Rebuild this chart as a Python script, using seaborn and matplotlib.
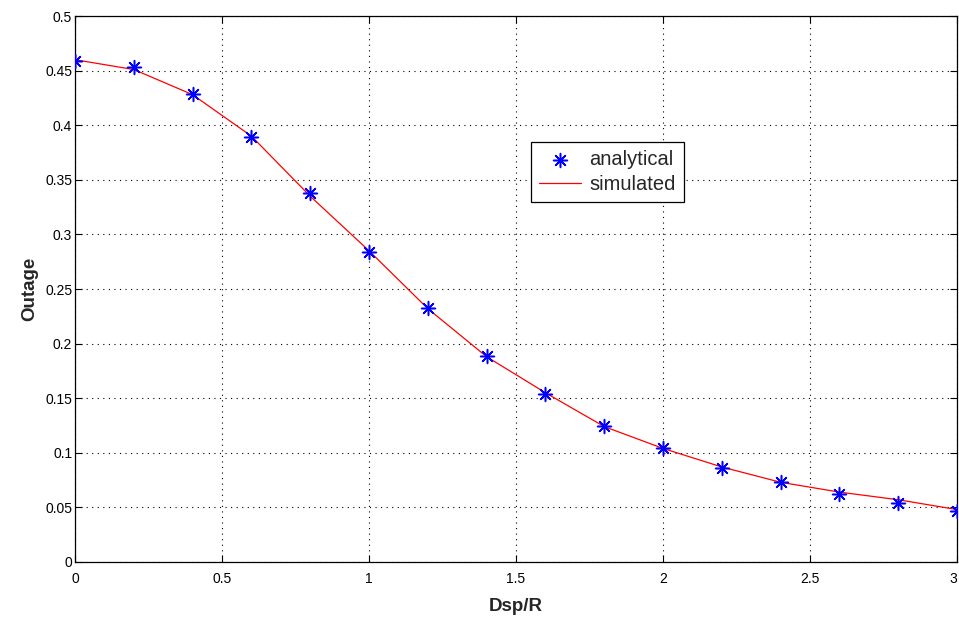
import matplotlib
matplotlib.use("Agg")
import matplotlib.pyplot as plt
import seaborn as sns
import pandas as pd

x_vals = [0, 0.2, 0.4, 0.6, 0.8, 1.0, 1.2, 1.4, 1.6, 1.8, 2.0, 2.2, 2.4, 2.6, 2.8, 3.0]
analytical = [0.459, 0.453, 0.429, 0.389, 0.338, 0.284, 0.233, 0.189, 0.154, 0.125,
              0.104, 0.086, 0.073, 0.062, 0.054, 0.047]
simulated = [0.460, 0.451, 0.428, 0.390, 0.335, 0.285, 0.232, 0.188, 0.155, 0.124,
             0.104, 0.087, 0.073, 0.064, 0.057, 0.048]
x_ticks = [0, 0.5, 1, 1.5, 2, 2.5, 3]
x_tick_labels = ["0", "0.5", "1", "1.5", "2", "2.5", "3"]
y_ticks = [0, 0.05, 0.1, 0.15, 0.2, 0.25, 0.3, 0.35, 0.4, 0.45, 0.5]
y_tick_labels = ["0", "0.05", "0.1", "0.15", "0.2", "0.25", "0.3", "0.35", "0.4", "0.45", "0.5"]

df = pd.DataFrame({"x": x_vals, "analytical": analytical, "simulated": simulated})

sns.set_style("white")
plt.rcParams["font.family"] = ["Liberation Sans", "DejaVu Sans"]

fig = plt.figure(figsize=(9.59, 6.19), dpi=100)
ax = fig.add_axes([0.0782, 0.0921, 0.9198, 0.882])

sns.scatterplot(data=df, x="x", y="analytical", ax=ax, marker=(8, 2, 0), s=100,
                color="#0000ff", linewidth=1.1, label="analytical", zorder=3)
sns.lineplot(data=df, x="x", y="simulated", ax=ax, color="#ff0000", linewidth=0.9,
             label="simulated", zorder=2)

ax.set_xlim(0, 3)
ax.set_ylim(0, 0.5)
ax.set_xticks(x_ticks)
ax.set_xticklabels(x_tick_labels)
ax.set_yticks(y_ticks)
ax.set_yticklabels(y_tick_labels)
ax.grid(True, linestyle=(0, (1, 4)), color="black", linewidth=0.8)
ax.tick_params(direction="in", length=5, width=0.8, labelsize=10, top=True, right=True,
               bottom=True, left=True, colors="black")
ax.tick_params(axis="x", pad=7)
ax.tick_params(axis="y", pad=2)
xlabels = ax.get_xticklabels()
xlabels[-1].set_horizontalalignment("right")
for s in ax.spines.values():
    s.set_visible(True)
    s.set_color("black")
    s.set_linewidth(0.9)
ax.set_xlabel("Dsp/R", fontsize=13.5, fontweight="bold", labelpad=9)
ax.set_ylabel("Outage", fontsize=13.5, fontweight="bold", labelpad=5)

leg = ax.legend(loc="upper left", bbox_to_anchor=(0.517, 0.769), borderaxespad=0,
                fontsize=14.5, frameon=True, fancybox=False, edgecolor="black",
                framealpha=1, borderpad=0.4, handlelength=2.1, handletextpad=0.4,
                labelspacing=0.3)
leg.get_frame().set_linewidth(0.9)

fig.savefig("out.png", dpi=100)
